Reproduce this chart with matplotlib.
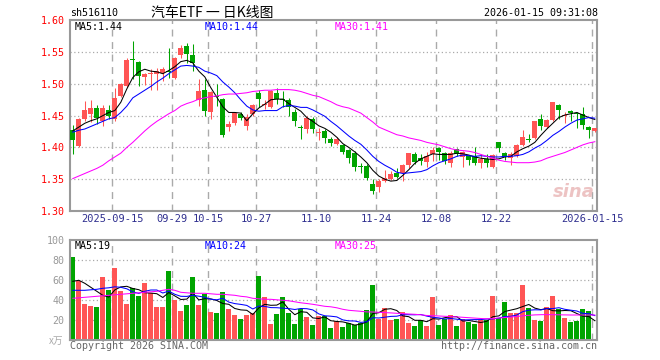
import numpy as np
import matplotlib
matplotlib.use("Agg")
import matplotlib.pyplot as plt

plt.rcParams['font.family'] = ['DejaVu Sans Mono', 'Noto Sans CJK SC']

# daily candles, sh516110, 2025-09-04 .. 2026-01-15
opens = [1.427, 1.402, 1.445, 1.453, 1.462, 1.441, 1.459, 1.445, 1.481, 1.497,
         1.539, 1.535, 1.511, 1.515, 1.516, 1.517, 1.521, 1.510, 1.546, 1.560,
         1.546, 1.474, 1.490, 1.455, 1.481, 1.476, 1.432, 1.438, 1.452, 1.434,
         1.453, 1.486, 1.466, 1.463, 1.486, 1.475, 1.474, 1.455, 1.431, 1.429,
         1.444, 1.423, 1.426, 1.413, 1.405, 1.404, 1.396, 1.392, 1.370, 1.371,
         1.343, 1.338, 1.347, 1.351, 1.359, 1.360, 1.372, 1.390, 1.384, 1.377,
         1.389, 1.399, 1.391, 1.375, 1.397, 1.385, 1.386, 1.387, 1.375, 1.382,
         1.369, 1.408, 1.391, 1.384, 1.386, 1.404, 1.413, 1.415, 1.445, 1.432,
         1.443, 1.467, 1.449, 1.457, 1.454, 1.453, 1.432, 1.426]
highs = [1.435, 1.447, 1.473, 1.474, 1.466, 1.466, 1.466, 1.493, 1.502, 1.540,
         1.567, 1.536, 1.517, 1.523, 1.525, 1.527, 1.557, 1.543, 1.561, 1.564,
         1.563, 1.507, 1.507, 1.489, 1.500, 1.478, 1.442, 1.456, 1.456, 1.452,
         1.468, 1.490, 1.475, 1.490, 1.494, 1.489, 1.478, 1.461, 1.436, 1.449,
         1.448, 1.431, 1.429, 1.416, 1.416, 1.406, 1.398, 1.395, 1.376, 1.374,
         1.351, 1.351, 1.364, 1.363, 1.367, 1.374, 1.392, 1.393, 1.389, 1.393,
         1.400, 1.401, 1.393, 1.395, 1.399, 1.394, 1.388, 1.400, 1.390, 1.390,
         1.389, 1.408, 1.393, 1.393, 1.405, 1.427, 1.421, 1.442, 1.452, 1.445,
         1.472, 1.468, 1.456, 1.459, 1.455, 1.463, 1.434, 1.431]
lows = [1.390, 1.400, 1.442, 1.440, 1.437, 1.434, 1.444, 1.442, 1.479, 1.495,
        1.508, 1.497, 1.498, 1.490, 1.490, 1.504, 1.510, 1.508, 1.541, 1.533,
        1.520, 1.465, 1.450, 1.444, 1.465, 1.416, 1.426, 1.435, 1.443, 1.427,
        1.450, 1.464, 1.460, 1.462, 1.468, 1.464, 1.449, 1.433, 1.413, 1.422,
        1.423, 1.411, 1.407, 1.402, 1.404, 1.389, 1.376, 1.363, 1.360, 1.348,
        1.326, 1.330, 1.345, 1.349, 1.352, 1.347, 1.368, 1.374, 1.373, 1.369,
        1.379, 1.380, 1.374, 1.369, 1.386, 1.369, 1.372, 1.372, 1.368, 1.369,
        1.368, 1.393, 1.380, 1.373, 1.385, 1.403, 1.408, 1.413, 1.427, 1.430,
        1.442, 1.445, 1.438, 1.442, 1.431, 1.429, 1.415, 1.425]
closes = [1.412, 1.445, 1.459, 1.462, 1.446, 1.462, 1.450, 1.477, 1.500, 1.538,
          1.538, 1.512, 1.515, 1.517, 1.520, 1.523, 1.518, 1.540, 1.557, 1.547,
          1.533, 1.489, 1.457, 1.487, 1.480, 1.419, 1.4375, 1.454, 1.446, 1.448,
          1.467, 1.476, 1.468, 1.488, 1.476, 1.474, 1.464, 1.441, 1.430, 1.446,
          1.429, 1.424, 1.415, 1.407, 1.414, 1.393, 1.384, 1.370, 1.369, 1.352,
          1.332, 1.347, 1.352, 1.358, 1.354, 1.373, 1.391, 1.377, 1.379, 1.386,
          1.396, 1.393, 1.379, 1.392, 1.390, 1.393, 1.380, 1.375, 1.382, 1.375,
          1.388, 1.399, 1.385, 1.390, 1.404, 1.416, 1.412, 1.441, 1.433, 1.443,
          1.471, 1.459, 1.450, 1.454, 1.453, 1.436, 1.428, 1.430]
volumes = [83, 59, 36, 34, 33, 63, 50, 72, 49, 36,
           52, 44, 57, 47, 33, 33, 69, 40, 29, 35,
           63, 35, 46, 28, 27, 48, 31, 25, 21, 25,
           27, 64, 43, 16, 26, 43, 27, 16, 31, 23,
           15, 24, 24, 12, 19, 13, 17, 15, 17, 30,
           55, 21, 32, 20, 21, 28, 17, 14, 20, 14,
           43, 15, 21, 25, 14, 21, 18, 16, 20, 20,
           44, 22, 38, 27, 27, 55, 32, 20, 19, 33,
           44, 31, 22, 18, 19, 31, 29, 1]

# moving averages as drawn on the chart
ma5 = [1.426, 1.432, 1.438, 1.442, 1.445, 1.450, 1.455, 1.458, 1.471, 1.492,
       1.510, 1.519, 1.523, 1.520, 1.519, 1.516, 1.521, 1.527, 1.535, 1.537,
       1.533, 1.520, 1.511, 1.494, 1.479, 1.464, 1.455, 1.455, 1.454, 1.442,
       1.453, 1.462, 1.468, 1.475, 1.476, 1.476, 1.469, 1.463, 1.457, 1.447,
       1.441, 1.434, 1.430, 1.424, 1.416, 1.406, 1.400, 1.393, 1.385, 1.376,
       1.364, 1.355, 1.350, 1.347, 1.348, 1.356, 1.365, 1.375, 1.382, 1.386,
       1.390, 1.389, 1.389, 1.389, 1.391, 1.390, 1.388, 1.385, 1.383, 1.382,
       1.381, 1.382, 1.385, 1.386, 1.393, 1.398, 1.402, 1.408, 1.419, 1.429,
       1.438, 1.447, 1.451, 1.453, 1.455, 1.451, 1.447, 1.444]
ma10 = [1.424, 1.427, 1.429, 1.433, 1.437, 1.441, 1.445, 1.447, 1.455, 1.465,
        1.478, 1.484, 1.490, 1.496, 1.503, 1.509, 1.516, 1.522, 1.528, 1.529,
        1.528, 1.526, 1.520, 1.517, 1.513, 1.503, 1.495, 1.486, 1.475, 1.465,
        1.459, 1.457, 1.458, 1.458, 1.458, 1.464, 1.466, 1.465, 1.463, 1.463,
        1.459, 1.454, 1.449, 1.441, 1.434, 1.426, 1.418, 1.411, 1.405, 1.396,
        1.386, 1.378, 1.372, 1.367, 1.361, 1.359, 1.360, 1.361, 1.362, 1.365,
        1.371, 1.376, 1.379, 1.382, 1.386, 1.388, 1.387, 1.386, 1.387, 1.386,
        1.385, 1.385, 1.386, 1.386, 1.387, 1.389, 1.393, 1.399, 1.404, 1.411,
        1.419, 1.425, 1.432, 1.438, 1.443, 1.445, 1.447, 1.446]
ma30 = [1.351, 1.355, 1.359, 1.363, 1.367, 1.372, 1.379, 1.385, 1.391, 1.400,
        1.408, 1.417, 1.426, 1.434, 1.441, 1.447, 1.453, 1.458, 1.465, 1.469,
        1.472, 1.476, 1.478, 1.480, 1.481, 1.483, 1.484, 1.484, 1.485, 1.486,
        1.488, 1.489, 1.490, 1.490, 1.491, 1.491, 1.491, 1.490, 1.488, 1.485,
        1.482, 1.480, 1.476, 1.472, 1.467, 1.464, 1.462, 1.458, 1.454, 1.447,
        1.440, 1.432, 1.428, 1.424, 1.420, 1.418, 1.415, 1.413, 1.411, 1.408,
        1.406, 1.404, 1.401, 1.398, 1.396, 1.395, 1.394, 1.392, 1.389, 1.386,
        1.383, 1.380, 1.378, 1.377, 1.376, 1.376, 1.376, 1.377, 1.379, 1.383,
        1.386, 1.389, 1.392, 1.396, 1.400, 1.404, 1.407, 1.409]
vol_ma5 = [59, 60, 57, 53, 49, 45, 43.2, 50.4, 53.4, 54,
           51.8, 50.6, 47.6, 47.2, 46.6, 42.8, 47.8, 44.4, 40.8, 41.2,
           47.2, 40.4, 41.6, 41.4, 39.8, 36.8, 36, 31.8, 30.4, 30,
           25.8, 32.4, 36, 35, 35.2, 38.4, 31, 25.6, 28.6, 28,
           22.4, 21.8, 23.4, 19.6, 18.8, 18.4, 17, 15.2, 16.2, 18.4,
           26.8, 27.6, 31, 31.6, 29.8, 24.4, 23.6, 20, 20, 18.6,
           21.6, 21.2, 22.6, 23.6, 23.6, 19.2, 19.8, 18.8, 17.8, 19,
           23.6, 24.4, 28.8, 30.2, 31.6, 33.8, 35.8, 32.2, 30.6, 31.8,
           29.6, 29.4, 29.8, 29.6, 26.8, 24.2, 23.8, 19.6]
vol_ma10 = [50, 50, 50, 50.5, 51, 52, 52.5, 53.5, 53, 51.5,
            48.4, 46.9, 49, 50.3, 50.3, 47.3, 49.2, 46, 44, 43.9,
            45, 44.1, 43, 41.1, 40.5, 42, 38.2, 36.7, 35.9, 34.9,
            31.3, 34.2, 33.9, 32.7, 32.6, 32.1, 31.7, 30.8, 31.8, 31.6,
            30.4, 26.4, 24.5, 24.1, 23.4, 20.4, 19.4, 19.3, 17.9, 18.6,
            22.6, 22.3, 23.1, 23.9, 24.1, 25.6, 25.6, 25.5, 25.8, 24.2,
            23, 22.4, 21.3, 21.8, 21.1, 20.4, 20.5, 20.7, 20.7, 21.3,
            21.4, 22.1, 23.8, 24, 25.3, 28.7, 30.1, 30.5, 30.4, 31.7,
            31.7, 32.6, 31, 30.1, 29.3, 26.9, 26.6, 24.7]
vol_ma30 = [42, 42.5, 43, 43.5, 44, 44.5, 45, 45.5, 46, 46.5,
            47, 47.5, 48, 48.5, 49, 50, 51, 50, 48, 47.5,
            47, 47, 47, 46.5, 46, 46, 45.5, 45, 44, 43.4,
            42, 41.5, 41, 41, 40.5, 40, 39.5, 38.5, 37.5, 36.8,
            36, 35, 34, 33.5, 32.5, 31, 30, 29.5, 29, 28.4,
            28.3, 28, 27.7, 27.4, 27, 26.7, 26.3, 26, 25.5, 24.8,
            24.6, 24.3, 24, 23.7, 23.4, 23, 22.6, 22.2, 21.8, 21.5,
            21.8, 22.3, 22.8, 23.3, 23.8, 24.5, 25, 25.4, 25.6, 25.7,
            25.6, 25.5, 25.4, 25.3, 25.3, 25.3, 25.3, 25.3]

date_idx = [7, 17, 23, 31, 41, 51, 61, 71, 87]
date_labels = ["2025-09-15", "09-29", "10-15", "10-27", "11-10",
               "11-24", "12-08", "12-22", "2026-01-15"]
price_ticks = [1.30, 1.35, 1.40, 1.45, 1.50, 1.55, 1.60]
vol_ticks = [20, 40, 60, 80, 100]
price_ma_labels = ["MA5:1.44", "MA10:1.44", "MA30:1.41"]
vol_ma_labels = ["MA5:19", "MA10:24", "MA30:25"]

RED = "#ff5555"
GREEN = "#00a400"
MA_COLORS = ["black", "#0000ff", "#ff00ff"]
GRID = "#aaaaaa"

W, H = 660, 360


def rect(l, t, r, b):
    return [l / W, 1 - b / H, (r - l) / W, (b - t) / H]


fig = plt.figure(figsize=(6.6, 3.6), dpi=100)
ax = fig.add_axes(rect(70.3, 20.3, 597.3, 211.0))
axv = fig.add_axes(rect(70.3, 240.3, 597.3, 340.3))

o = np.array(opens)
c = np.array(closes)
x = np.arange(len(c))
cols = np.where(c >= o, RED, GREEN)
bw = 5 / 6
mid = x + 2.5 / 6

# grid
for a in (ax, axv):
    for d in date_idx:
        a.axvline(d, color=GRID, lw=1.0, ls=(0, (5, 4)), zorder=0)
    for s in a.spines.values():
        s.set_color("#999999")
        s.set_linewidth(1.5)
for p in price_ticks[1:-1]:
    ax.axhline(p, color=GRID, lw=0.9, ls=(0, (1, 2)), zorder=0)
for v in vol_ticks[:-1]:
    axv.axhline(v, color=GRID, lw=0.9, ls=(0, (1, 2)), zorder=0)

# candles
ax.vlines(mid, lows, highs, colors=cols, lw=0.75, zorder=2)
body = np.maximum(np.abs(c - o), 0.0015)
ax.bar(x, body, bottom=np.minimum(o, c), width=bw, align="edge",
       color=cols, linewidth=0, zorder=3)
for ser, col in zip([ma5, ma10, ma30], MA_COLORS):
    ax.plot(mid, ser, color=col, lw=0.75, zorder=4)

# volume
axv.bar(x, volumes, width=bw, align="edge", color=cols, linewidth=0, zorder=2)
for ser, col in zip([vol_ma5, vol_ma10, vol_ma30], MA_COLORS):
    axv.plot(mid, ser, color=col, lw=0.75, zorder=4)

ax.set_xlim(0, 87.83)
axv.set_xlim(0, 87.83)
ax.set_ylim(1.60 - (211.0 - 20.3) / 640, 1.60)
axv.set_ylim(0, 100)

ax.set_yticks(price_ticks)
ax.set_yticklabels([f"{p:.2f}" for p in price_ticks])
ax.tick_params(axis="y", length=0, pad=4, labelsize=7.2, labelcolor="red")
ax.set_xticks(date_idx)
ax.set_xticklabels(date_labels)
ax.tick_params(axis="x", length=0, pad=2.5, labelsize=7.5, labelcolor="#2f2f8f")

axv.set_yticks(vol_ticks)
axv.set_yticklabels([str(v) for v in vol_ticks])
axv.tick_params(axis="y", length=0, pad=4, labelsize=7.2, labelcolor="#999999")
axv.set_xticks([])

# text
fig.text(70 / W, 1 - 13 / H, "sh516110", ha="left", va="center", fontsize=7.2)
fig.text(151 / W, 1 - 13 / H, "汽车ETF 一 日K线图", ha="left", va="center",
         fontsize=10, family=["Noto Sans CJK SC", "DejaVu Sans"])
fig.text(598 / W, 1 - 13 / H, "2026-01-15 09:31:08", ha="right", va="center",
         fontsize=7.2)

for lab, col, px in zip(price_ma_labels, MA_COLORS, [75, 205, 335]):
    fig.text(px / W, 1 - 26.5 / H, lab, color=col, ha="left", va="center",
             fontsize=7.2)
for lab, col, px in zip(vol_ma_labels, MA_COLORS, [75, 205, 335]):
    fig.text(px / W, 1 - 246 / H, lab, color=col, ha="left", va="center",
             fontsize=7.2)

fig.text(63 / W, 1 - 341 / H, "x万", ha="right", va="center", fontsize=7,
         color="#aaaaaa", family=["Noto Sans CJK SC", "DejaVu Sans"])
fig.text(70 / W, 1 - 346 / H, "Copyright 2026 SINA.COM", ha="left",
         va="center", fontsize=7.2, color="#666666")
fig.text(597 / W, 1 - 346 / H, "http://finance.sina.com.cn", ha="right",
         va="center", fontsize=7.2, color="#666666")

ax.text(0.995, 0.1, "sina", transform=ax.transAxes, ha="right", va="center",
        fontsize=13, fontstyle="italic", fontweight="bold", color="#e9b5b5",
        alpha=0.8, family="DejaVu Sans", zorder=1)

fig.savefig("out.png", dpi=100)
